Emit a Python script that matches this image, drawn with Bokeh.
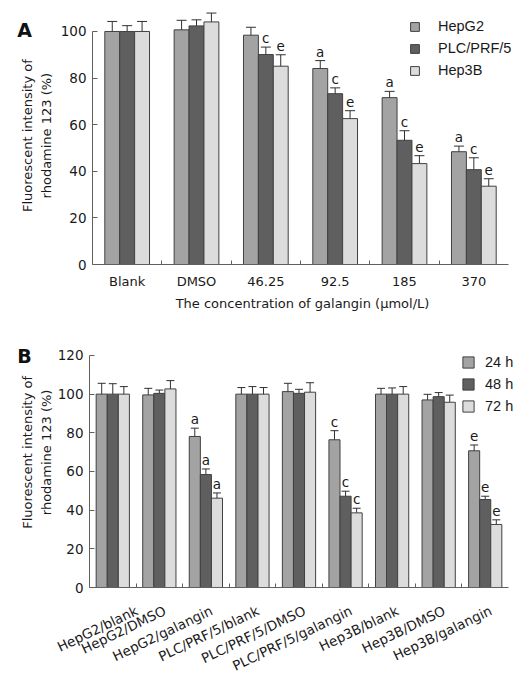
import math
from bokeh.plotting import figure
from bokeh.models import (ColumnDataSource, Range1d, FixedTicker, Whisker, TeeHead,
                          Legend, LegendItem, Label)
from bokeh.layouts import column, row
from bokeh.core.properties import value
from bokeh.embed import file_html
from bokeh.resources import INLINE

# ---------------- Panel A data ----------------
conc_labels = ["Blank", "DMSO", "46.25", "92.5", "185", "370"]
lines_a = ["HepG2", "PLC/PRF/5", "Hep3B"]
hepg2_a = [100.0, 100.7, 98.4, 84.1, 71.6, 48.4]
hepg2_a_err = [4.3, 4.1, 3.4, 3.4, 2.7, 2.4]
plc_a = [100.0, 102.4, 90.1, 73.3, 53.3, 40.7]
plc_a_err = [2.5, 2.6, 3.2, 2.5, 4.1, 5.1]
hep3b_a = [100.0, 104.1, 85.1, 62.6, 43.3, 33.6]
hep3b_a_err = [4.3, 3.8, 4.9, 3.4, 3.4, 3.2]
hepg2_a_sig = ["", "", "", "a", "a", "a"]
plc_a_sig = ["", "", "c", "c", "c", "c"]
hep3b_a_sig = ["", "", "e", "e", "e", "e"]
yticks_a = [0, 20, 40, 60, 80, 100]

# ---------------- Panel B data ----------------
groups_b = ["HepG2/blank", "HepG2/DMSO", "HepG2/galangin",
            "PLC/PRF/5/blank", "PLC/PRF/5/DMSO", "PLC/PRF/5/galangin",
            "Hep3B/blank", "Hep3B/DMSO", "Hep3B/galangin"]
times_b = ["24 h", "48 h", "72 h"]
h24 = [100.0, 99.6, 78.1, 100.0, 101.3, 76.4, 100.0, 97.0, 70.7]
h24_err = [5.6, 3.4, 4.3, 3.4, 4.3, 4.7, 3.0, 2.9, 3.0]
h48 = [100.0, 100.4, 58.4, 100.0, 100.4, 47.2, 100.0, 98.7, 45.5]
h48_err = [5.4, 1.7, 2.9, 3.9, 2.1, 2.6, 3.2, 2.1, 1.7]
h72 = [100.0, 102.7, 46.2, 100.0, 101.0, 38.6, 100.0, 95.8, 32.6]
h72_err = [3.9, 4.3, 2.7, 3.4, 4.9, 2.4, 3.9, 3.7, 2.4]
h24_sig = ["", "", "a", "", "", "c", "", "", "e"]
h48_sig = ["", "", "a", "", "", "c", "", "", "e"]
h72_sig = ["", "", "a", "", "", "c", "", "", "e"]
yticks_b = [0, 20, 40, 60, 80, 100, 120]

ylab1 = "Fluorescent intensity of"
ylab2 = "rhodamine 123 (%)"

bar_colors = ["#a3a3a3", "#5f5f5f", "#dcdcdc"]
TXT = "#1a1a1a"
AX = "#606060"
GUTTER = 54


def make_panel(categories, names, vals, errs, sigs, y_end, yticks, bounds_top,
               bar_w, head, width, height, borders, axis_px, shift,
               legend_loc, glyph, standoff, spacing, rotate, lab_size, lab_standoff):
    n = len(categories)
    left, top, bottom = borders
    frame_px = width - left
    x0 = 0.5 - shift
    x1 = x0 + frame_px * n / axis_px
    p = figure(width=width, height=height, title=None,
               x_range=Range1d(x0, x1), y_range=Range1d(0, y_end),
               output_backend="svg", toolbar_location=None,
               min_border_left=left, min_border_right=0,
               min_border_top=top, min_border_bottom=bottom)
    p.outline_line_color = None
    p.xgrid.grid_line_color = None
    p.ygrid.grid_line_color = None

    items = []
    for j, (name, v, e, s) in enumerate(zip(names, vals, errs, sigs)):
        xs = [i + 1 - shift + (j - 1) * bar_w for i in range(n)]
        src = ColumnDataSource(dict(
            x=xs, top=v,
            upper=[a + b for a, b in zip(v, e)],
            lower=[a - b for a, b in zip(v, e)],
            sig=s))
        r = p.vbar(x="x", top="top", width=bar_w, bottom=0, source=src,
                   fill_color=bar_colors[j], line_color="#404040", line_width=1)
        w = Whisker(base="x", upper="upper", lower="lower", source=src,
                    line_color="#303030", line_width=1,
                    upper_head=TeeHead(size=head, line_color="#303030", line_width=1),
                    lower_head=TeeHead(size=head, line_color="#303030", line_width=1))
        p.add_layout(w)
        p.text(x="x", y="upper", text="sig", source=src,
               text_font=value("DejaVu Sans"), text_font_size="13.5px",
               text_align="center", text_baseline="alphabetic", y_offset=-9,
               text_color=TXT)
        items.append(LegendItem(label=name, renderers=[r]))

    legend = Legend(items=items, location=legend_loc, orientation="vertical",
                    glyph_width=glyph, glyph_height=glyph,
                    label_standoff=standoff, spacing=spacing, padding=0, margin=0,
                    border_line_color=None, background_fill_alpha=0,
                    label_text_font="Liberation Sans", label_text_font_size="14.5px",
                    label_text_color=TXT)
    p.add_layout(legend)

    # x axis: labels at group centres, ticks at group boundaries
    xa = p.xaxis[0]
    xa.ticker = FixedTicker(ticks=list(range(1, n + 1)),
                            minor_ticks=[i + 1.5 - shift for i in range(n - 1)])
    xa.major_label_overrides = {i + 1: c for i, c in enumerate(categories)}
    xa.bounds = (x0, n + 0.5 - shift)
    xa.major_tick_line_color = None
    xa.minor_tick_in = 4
    xa.minor_tick_out = 0
    xa.minor_tick_line_color = AX
    xa.axis_line_color = AX
    xa.major_label_text_font = "DejaVu Sans"
    xa.major_label_text_font_size = lab_size
    xa.major_label_text_color = TXT
    xa.major_label_standoff = lab_standoff
    if rotate:
        xa.major_label_orientation = rotate

    ya = p.yaxis[0]
    ya.ticker = FixedTicker(ticks=yticks)
    ya.bounds = (0, bounds_top)
    ya.major_tick_in = 5
    ya.major_tick_out = 0
    ya.minor_tick_line_color = None
    ya.major_tick_line_color = AX
    ya.axis_line_color = AX
    ya.major_label_text_font = "DejaVu Sans"
    ya.major_label_text_font_size = "13.5px"
    ya.major_label_text_color = TXT
    ya.major_label_standoff = 6
    return p


def make_gutter(height, top, bottom, y_end, mid, letter, letter_y, drop_px):
    # narrow side figure carrying the panel letter and the two-line y title,
    # sharing the vertical mapping of the main panel
    scale = y_end / (height - top - bottom)
    g = figure(width=GUTTER, height=height, title=None,
               x_range=Range1d(0, GUTTER),
               y_range=Range1d(-bottom * scale, y_end + top * scale),
               x_axis_location=None, y_axis_location=None, min_border=0,
               output_backend="svg", toolbar_location=None)
    g.outline_line_color = None
    g.grid.grid_line_color = None
    for txt, x in ((ylab1, 27), (ylab2, 46)):
        g.add_layout(Label(x=x, y=mid - drop_px * scale, text=txt, angle=math.pi / 2,
                           text_align="center", text_baseline="middle",
                           text_font="DejaVu Sans", text_font_size="13px",
                           text_color=TXT))
    g.add_layout(Label(x=24, y=letter_y, text=letter,
                       text_align="center", text_baseline="middle",
                       text_font="DejaVu Sans", text_font_size="19px",
                       text_font_style="bold", text_color="#111111"))
    return g


# Panel A
pA = make_panel(conc_labels, lines_a,
                [hepg2_a, plc_a, hep3b_a], [hepg2_a_err, plc_a_err, hep3b_a_err],
                [hepg2_a_sig, plc_a_sig, hep3b_a_sig],
                109, yticks_a, 100, 0.215, 10, 512 - GUTTER, 340, (38, 10, 76), 416, 0.0,
                (317, 186), 11, 18, 6, None, "13px", 3)
pA.xaxis.axis_label = "The concentration of galangin (\u03bcmol/L)"
pA.xaxis.axis_label_text_font = "DejaVu Sans"
pA.xaxis.axis_label_text_font_size = "13px"
pA.xaxis.axis_label_text_font_style = "normal"
pA.xaxis.axis_label_text_color = TXT
pA.xaxis.axis_label_standoff = 4
gA = make_gutter(340, 10, 76, 109, 50, "A", 102, 20)

# Panel B (frame extended 10 px above the 120 tick so the legend is not clipped)
b_frame_px = 233
yend_b = 120 + 10 * 120 / b_frame_px
pB = make_panel(groups_b, times_b, [h24, h48, h72], [h24_err, h48_err, h72_err],
                [h24_sig, h48_sig, h72_sig],
                yend_b, yticks_b, 120, 0.238, 8, 531 - GUTTER, 343, (35, 5, 95), 419, 0.12,
                (372, 173), 14, 10, 6, 0.45, "13.5px", 16)
gB = make_gutter(343, 15, 95, 120, 60, "B", 120, 20)

layout = column(row(gA, pA), row(gB, pB))
open("out.html", "w").write(file_html(layout, INLINE))
